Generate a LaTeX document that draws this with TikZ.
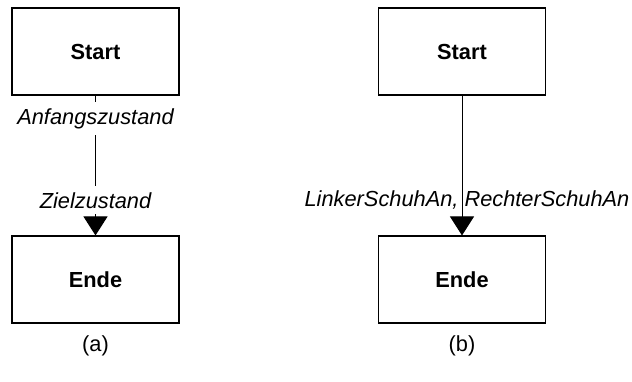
\documentclass[tikz,border=0pt]{standalone}
\usepackage{fontspec}
\setmainfont{Liberation Sans}
\usetikzlibrary{arrows.meta,positioning}
\tikzset{
  state/.style={draw, line width=0.55pt, minimum width=83.5pt, minimum height=43.5pt,
    font=\fontsize{10.9}{12}\selectfont\bfseries},
  trans/.style={line width=0.5pt, arrows={-Triangle[width=12pt,length=9.5pt]}},
  lbl/.style={font=\fontsize{10.9}{12}\selectfont\itshape, inner xsep=1pt, inner ysep=3pt},
  subcap/.style={font=\fontsize{10.9}{12}\selectfont}
}

\begin{document}
\begin{tikzpicture}[x=0.5pt,y=-0.5pt]
  \useasboundingbox (0,0) rectangle (632,381);

  % (a): Anfangs- und Zielzustand
  \node[state] (Sa) at (95.5,51.5) {Start};
  \node[state] (Ea) at (95.5,279.5) {Ende};
  \draw[trans] (Sa) -- (Ea)
    node[lbl, fill=white, pos=0.165] {Anfangszustand}
    node[lbl, fill=white, pos=0.75] {Zielzustand};
  \node[subcap] (a) at (95.5,346) {(a)};

  % (b): Transition mit zwei Ereignissen
  \node[state] (Sb) at (462,51.5) {Start};
  \node[state] (Eb) at (462,279.5) {Ende};
  \draw[trans] (Sb) -- (Eb)
    node[lbl, pos=0.75, xshift=2.5pt] {LinkerSchuhAn, RechterSchuhAn};
  \node[subcap] (b) at (462,346) {(b)};
\end{tikzpicture}
\end{document}
